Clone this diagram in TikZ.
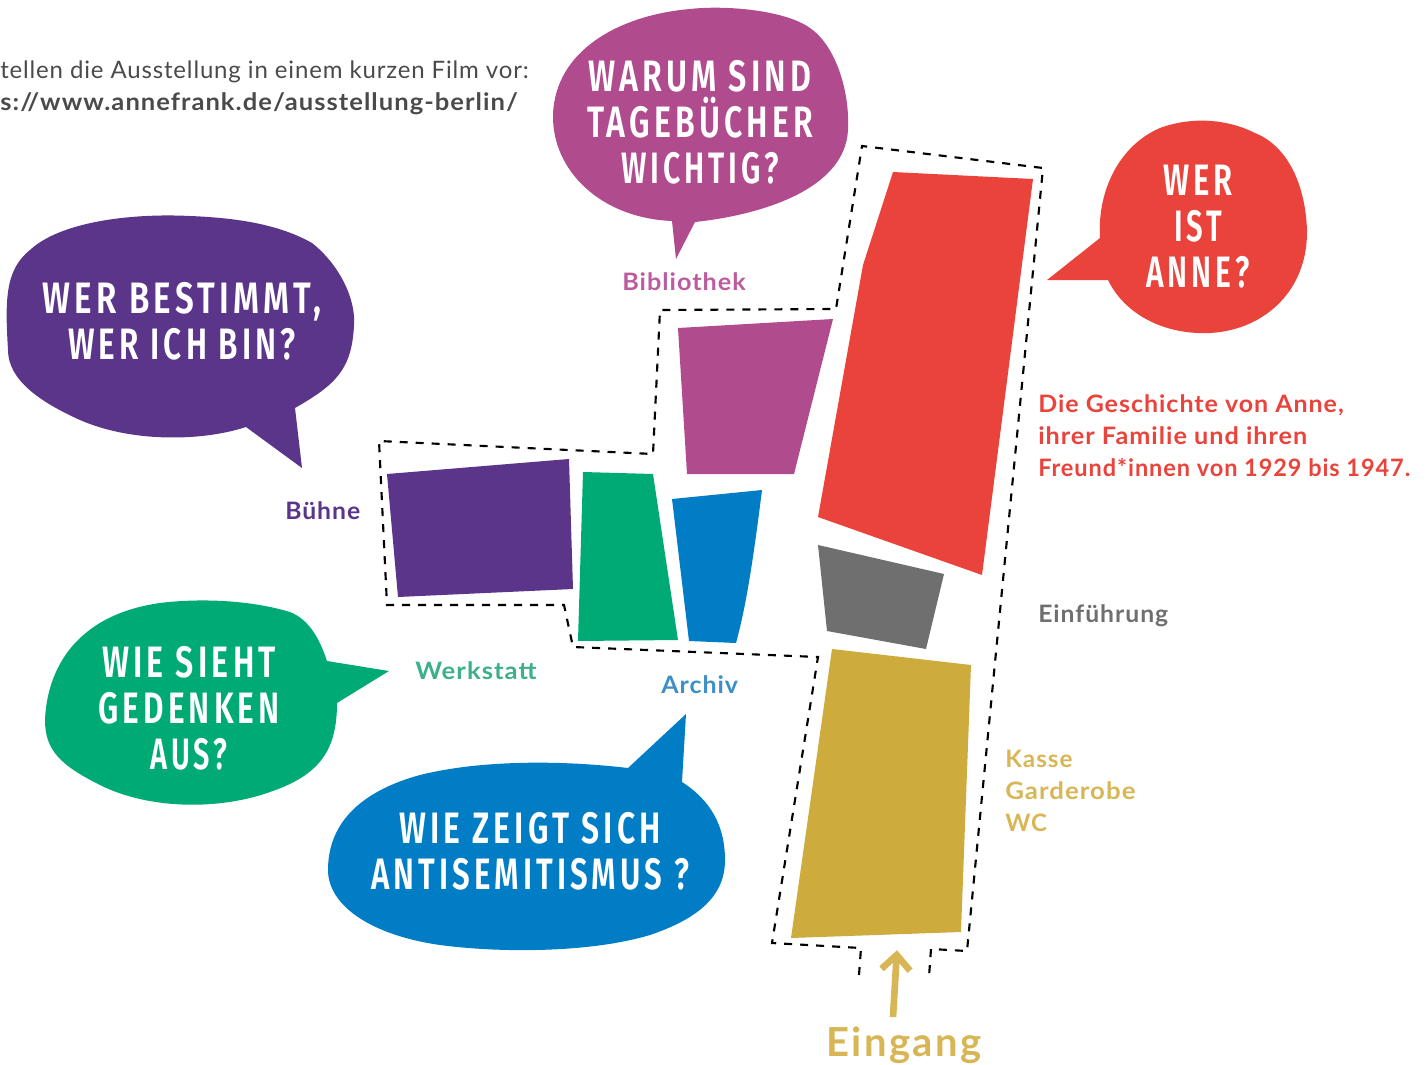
\documentclass[tikz,border=0pt]{standalone}
\usepackage{fontspec}
\setmainfont{Lato}
\newfontfamily\bubfont{Fira Sans}[UprightFont=* Medium,BoldFont=* SemiBold,LetterSpace=13]
\definecolor{cpurple}{HTML}{5A358A}
\definecolor{cmagenta}{HTML}{B04B8D}
\definecolor{cred}{HTML}{EA433B}
\definecolor{cgreen}{HTML}{00AA75}
\definecolor{cblue}{HTML}{007DC5}
\definecolor{cgray}{HTML}{706F6F}
\definecolor{cgold}{HTML}{CDAB3D}
\definecolor{lgold}{HTML}{D8B655}
\definecolor{lmag}{HTML}{BD5C9C}
\definecolor{lgreen}{HTML}{3BB08A}
\definecolor{lblue}{HTML}{3D8EC8}
\definecolor{ltext}{HTML}{4A4A49}
\newcommand{\bl}[2]{\scalebox{#1}[1]{#2}}
\tikzset{
  lab/.style={font=\fontsize{18}{24}\selectfont\bfseries\addfontfeature{LetterSpace=4},anchor=base west,inner sep=0pt,align=left},
  bub/.style={font=\bubfont\bfseries\fontsize{33}{34.5}\selectfont,text=white,align=center,inner sep=0pt},
  route/.style={draw=black,line width=1.6pt,dash pattern=on 6pt off 6pt,line cap=butt,line join=miter}
}
\begin{document}
\begin{tikzpicture}[x=0.75pt,y=-0.75pt]
\useasboundingbox (0,0) rectangle (1428,1064);
% rooms
\fill[cred] (893,172) -- (1033,179) -- (982,575) -- (818,517) -- (863,265) -- cycle;
\fill[cmagenta] (678,328) -- (833,319) -- (794,474) -- (687,474) -- cycle;
\fill[cpurple] (387,474) -- (569,459) -- (573,589) -- (398,597) -- cycle;
\fill[cgreen] (583,472) -- (653,474) -- (678,640) -- (578,641) -- cycle;
\fill[cblue] (672,499) -- (762,490) .. controls (752,570) and (745,610) .. (736,643) -- (689,641) -- cycle;
\fill[cgray] (818,545) -- (944,574) -- (926,649) -- (827,631) -- cycle;
\fill[cgold] (832,649) -- (971,665) -- (961,932) -- (791,938) -- cycle;
% route outline
\draw[route] (859,975) -- (861,948) -- (772,943) -- (818,657) -- (573,647) -- (564,605) -- (387,605) -- (379,441) -- (653,454) -- (660,310) -- (836,309) -- (862,146) -- (1043,168) -- (967,951) -- (931,949) -- (929,977);
% bubbles
\fill[cmagenta] (672,221) -- (676,259) -- (695,222) .. controls (760,215) and (845,190) .. (848,130) .. controls (850,90) and (835,45) .. (810,28) .. controls (785,10) and (725,5) .. (690,9) .. controls (620,15) and (555,50) .. (553,115) .. controls (552,170) and (600,218) .. (672,221) -- cycle;
\fill[cpurple] (295,408) -- (302,468) -- (246,427) .. controls (200,442) and (130,442) .. (80,420) .. controls (40,402) and (8,380) .. (8,350) .. controls (5,300) and (5,270) .. (30,250) .. controls (60,222) and (130,213) .. (190,216) .. controls (240,218) and (280,225) .. (312,243) .. controls (340,265) and (356,300) .. (354,325) .. controls (352,370) and (335,385) .. (295,408) -- cycle;
\fill[cred] (1100,238) -- (1047,280) -- (1108,280) .. controls (1125,315) and (1165,335) .. (1210,333) .. controls (1265,330) and (1308,290) .. (1307,230) .. controls (1305,180) and (1285,145) .. (1255,133) .. controls (1225,118) and (1190,117) .. (1160,128) .. controls (1120,145) and (1097,190) .. (1100,238) -- cycle;
\fill[cgreen] (327,661) -- (389,671) -- (337,703) .. controls (337,750) and (320,775) .. (270,792) .. controls (220,810) and (150,810) .. (100,785) .. controls (60,765) and (45,750) .. (45,720) .. controls (47,670) and (75,615) .. (160,603) .. controls (200,598) and (250,600) .. (290,612) .. controls (310,620) and (320,640) .. (327,661) -- cycle;
\fill[cblue] (682,782) -- (686,714) -- (628,768) .. controls (560,760) and (480,760) .. (420,775) .. controls (365,790) and (328,820) .. (328,870) .. controls (328,905) and (370,935) .. (440,945) .. controls (500,953) and (590,953) .. (650,935) .. controls (700,918) and (725,895) .. (725,860) .. controls (725,825) and (710,800) .. (682,782) -- cycle;
% bubble texts
\node[bub] (tmag) at (700,122) {\bl{.732}{WARUM SIND}\\\bl{.728}{TAGEBÜCHER}\\\bl{.686}{WICHTIG?}};
\node[bub] (tpur) at (182,321) {\bl{.753}{WER BESTIMMT,}\\\bl{.716}{WER ICH BIN?}};
\node[bub] (tred) at (1198,227) {\bl{.706}{WER}\\\bl{.667}{IST}\\\bl{.68}{ANNE?}};
\node[bub] (tgre) at (189,708) {\bl{.73}{WIE SIEHT}\\\bl{.718}{GEDENKEN}\\\bl{.657}{AUS?}};
\node[bub] (tblu) at (530,851) {\bl{.725}{WIE ZEIGT SICH}\\\bl{.71}{ANTISEMITISMUS ?}};
% labels
\node[lab,text=ltext,anchor=base east,font=\fontsize{18}{24}\selectfont\addfontfeature{LetterSpace=3.5}] (intro) at (529,78) {tellen die Ausstellung in einem kurzen Film vor:};
\node[lab,text=ltext,anchor=base east] (url) at (518,110) {\bl{1.066}{s://www.annefrank.de/ausstellung-berlin/}};
\node[lab,text=lmag] (bib) at (622,290) {\bl{1.05}{Bibliothek}};
\node[lab,text=cpurple] (bue) at (285,519) {\bl{1.03}{Bühne}};
\node[lab,text=lgreen] (wer) at (415,679) {\bl{1.07}{Werkstatt}};
\node[lab,text=lblue] (arc) at (661,693) {\bl{1.04}{Archiv}};
\node[lab,text=cgray] (ein) at (1038,622) {\bl{1.03}{Einführung}};
\node[lab,text=cred] (ges) at (1038,476) {\bl{1.04}{Die Geschichte von Anne,}\\\bl{1.05}{ihrer Familie und ihren}\\\bl{.98}{Freund*innen von 1929 bis 1947.}};
\node[lab,text=lgold] (kas) at (1005,831) {\bl{1.015}{Kasse}\\\bl{1.075}{Garderobe}\\WC};
\node[lab,text=lgold,font=\fontsize{30}{36}\selectfont\bfseries\addfontfeature{LetterSpace=6}] (ein2) at (826,1056) {Eingang};
% arrow
\coordinate (as) at (893,1017);
\coordinate (at) at (896.7,955);
\draw[lgold,line width=5pt] (as) -- (at);
\draw[lgold,line width=5pt,line cap=butt,line join=miter] (881.5,968.7) -- (at) -- (910,970.7);
\end{tikzpicture}
\end{document}
